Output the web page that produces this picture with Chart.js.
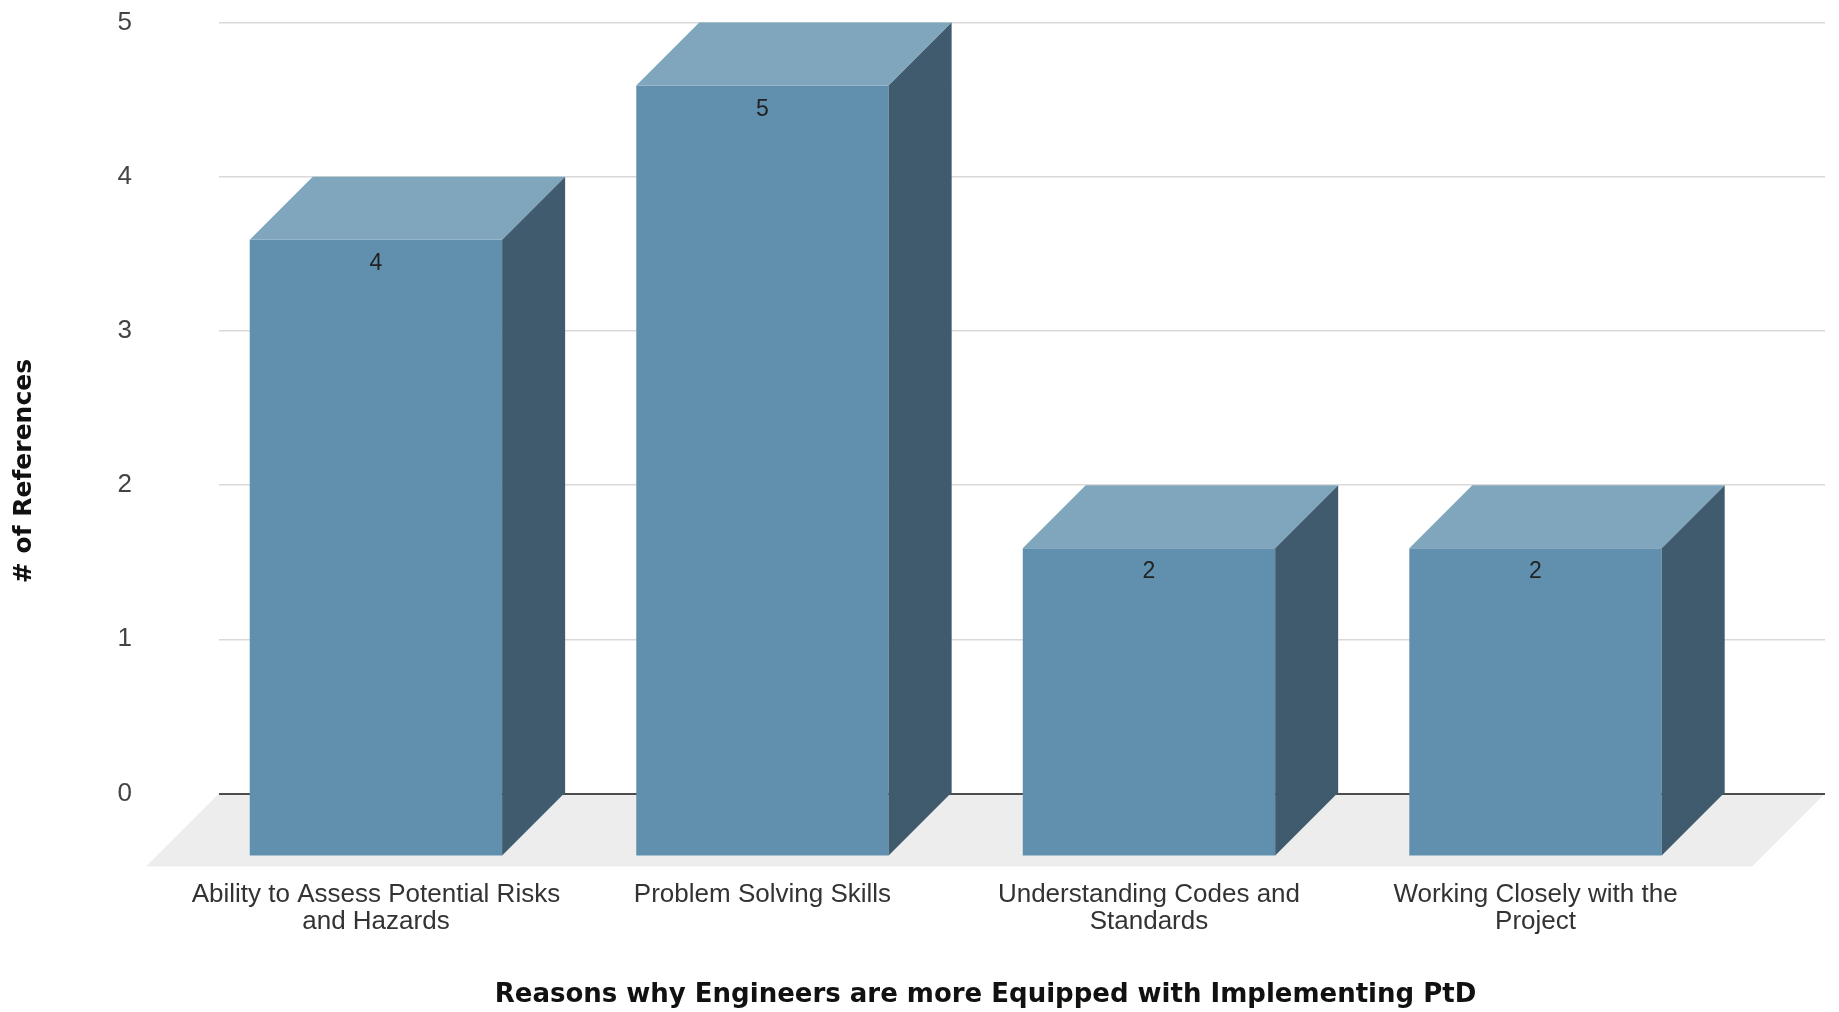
<!DOCTYPE html>
<html>
<head>
<meta charset="utf-8">
<title>Reasons why Engineers are more Equipped with Implementing PtD</title>
<script src="https://cdn.jsdelivr.net/npm/chart.js@4.4.0/dist/chart.umd.min.js"></script>
<style>
  html, body { margin: 0; padding: 0; background: #fff; }
  #wrap { width: 1839px; height: 1012px; position: relative; }
</style>
</head>
<body>
<div id="wrap"><canvas id="refChart"></canvas></div>
<script>
// Data
const categories = [
  ['Ability to Assess Potential Risks', 'and Hazards'],
  ['Problem Solving Skills'],
  ['Understanding Codes and', 'Standards'],
  ['Working Closely with the', 'Project']
];
const references = [4, 5, 2, 2];
const yTicks = [0, 1, 2, 3, 4, 5];
const xTitle = 'Reasons why Engineers are more Equipped with Implementing PtD';
const yTitle = '# of References';

// 3D look
const DEPTH = 63;   // how far the front face sits down-left of the back plane
const FLOOR = 73;   // depth of the grey floor
const FRONT = '#6190ae', TOP = '#7fa6bd', SIDE = '#3f5b6d';

function poly(ctx, pts) {
  ctx.beginPath();
  ctx.moveTo(pts[0][0], pts[0][1]);
  for (let i = 1; i < pts.length; i++) ctx.lineTo(pts[i][0], pts[i][1]);
  ctx.closePath();
  ctx.fill();
}

const box3d = {
  id: 'box3d',
  // grey floor under the plot, drawn before the grid
  beforeDraw(chart) {
    const {ctx, chartArea: a, scales: {y}} = chart;
    const y0 = y.getPixelForValue(0);
    ctx.save();
    ctx.fillStyle = '#ededed';
    poly(ctx, [[a.left, y0], [a.right, y0], [a.right - FLOOR, y0 + FLOOR], [a.left - FLOOR, y0 + FLOOR]]);
    ctx.restore();
  },
  // the library draws the front faces, pushed forward by DEPTH
  beforeDatasetsDraw(chart) {
    chart.ctx.save();
    chart.ctx.translate(-DEPTH, DEPTH);
  },
  afterDatasetsDraw(chart) {
    const ctx = chart.ctx;
    ctx.restore();
    ctx.save();
    const meta = chart.getDatasetMeta(0);
    meta.data.forEach((bar, i) => {
      const {x, y, base, width} = bar.getProps(['x', 'y', 'base', 'width'], true);
      const l = x - width / 2, r = x + width / 2;
      ctx.fillStyle = TOP;
      poly(ctx, [[l - DEPTH, y + DEPTH], [l, y], [r, y], [r - DEPTH, y + DEPTH]]);
      ctx.fillStyle = SIDE;
      poly(ctx, [[r - DEPTH, y + DEPTH], [r, y], [r, base], [r - DEPTH, base + DEPTH]]);
      // value label just under the front top edge
      ctx.fillStyle = '#222';
      ctx.font = '23px "Liberation Sans", Arial, sans-serif';
      ctx.textAlign = 'center';
      ctx.textBaseline = 'middle';
      ctx.fillText(String(references[i]), x - DEPTH, y + DEPTH + 24);
    });
    ctx.restore();
  },
  // axis titles
  afterDraw(chart) {
    const {ctx, chartArea: a} = chart;
    ctx.save();
    ctx.fillStyle = '#111';
    ctx.textAlign = 'center';
    ctx.textBaseline = 'middle';
    ctx.font = 'bold 26px "DejaVu Sans", sans-serif';
    ctx.fillText(xTitle, (a.left - FLOOR + a.right) / 2, chart.height - 17);
    ctx.font = 'bold 25px "DejaVu Sans", sans-serif';
    ctx.translate(24, (a.top + a.bottom) / 2 + DEPTH);
    ctx.rotate(-Math.PI / 2);
    ctx.fillText(yTitle, 0, 0);
    ctx.restore();
  }
};

const labelFont = {family: '"Liberation Sans", Arial, sans-serif', size: 26, lineHeight: 1.04};

new Chart(document.getElementById('refChart'), {
  type: 'bar',
  data: {
    datasets: [{
      data: references.map((v, i) => ({x: i, y: v})),
      backgroundColor: FRONT,
      borderWidth: 0,
      barPercentage: 0.653,
      categoryPercentage: 1,
      clip: false
    }]
  },
  options: {
    responsive: true,
    maintainAspectRatio: false,
    animation: false,
    layout: {padding: {top: 21, right: 14, left: 0, bottom: 0}},
    plugins: {legend: {display: false}, tooltip: {enabled: false}},
    scales: {
      x: {
        type: 'linear',
        offset: false,
        min: -0.569,
        max: 3.586,
        grid: {display: false, drawTicks: true, tickLength: 83},
        border: {display: false},
        afterBuildTicks: s => { s.ticks = categories.map((_, i) => ({value: i})); },
        afterFit: s => { s.height = 218.5; },
        ticks: {
          callback: v => categories[v],
          labelOffset: -DEPTH,
          padding: 5,
          maxRotation: 0,
          autoSkip: false,
          color: '#333',
          font: labelFont
        }
      },
      y: {
        min: 0,
        max: 5,
        border: {display: false},
        afterBuildTicks: s => { s.ticks = yTicks.map(v => ({value: v})); },
        afterFit: s => { s.width = 219; },
        grid: {
          drawTicks: true,
          tickLength: 80,
          tickColor: 'rgba(0,0,0,0)',
          color: c => c.tick && c.tick.value === 0 ? '#4d4d4d' : '#d9d9d9',
          lineWidth: c => c.tick && c.tick.value === 0 ? 2 : 1.5
        },
        ticks: {
          padding: 7,
          color: '#444',
          font: {family: '"Liberation Sans", Arial, sans-serif', size: 26}
        }
      }
    }
  },
  plugins: [box3d]
});
</script>
</body>
</html>
